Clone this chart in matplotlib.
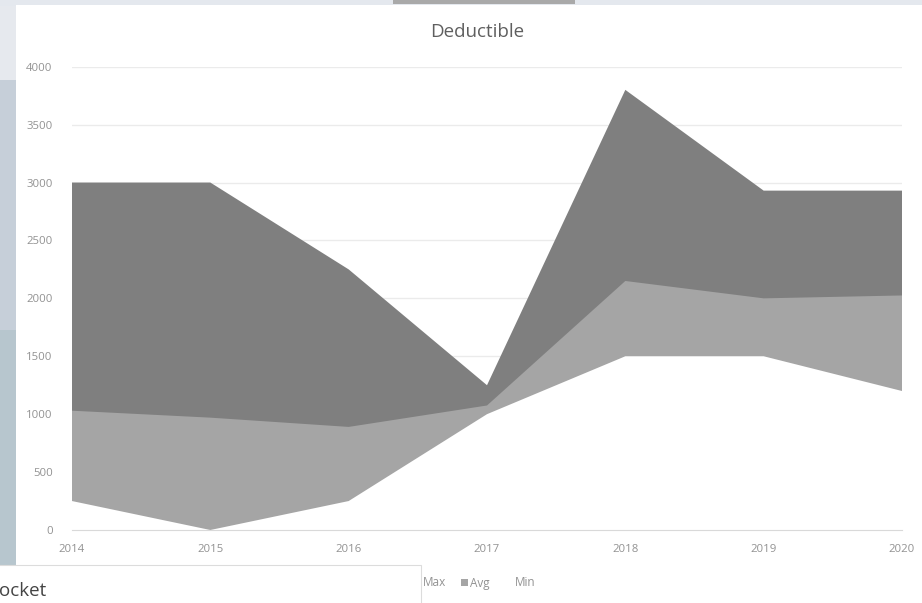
import matplotlib
matplotlib.use("Agg")
import matplotlib.pyplot as plt
from matplotlib.patches import Rectangle

# Deductible ranges by plan year
years = [2014, 2015, 2016, 2017, 2018, 2019, 2020]
max_vals = [3000, 3000, 2250, 1250, 3800, 2930, 2930]
avg_vals = [1030, 970, 890, 1075, 2150, 2000, 2025]
min_vals = [250, 0, 250, 1000, 1500, 1500, 1200]

series_names = ["Max", "Avg", "Min"]
series_colors = ["#7f7f7f", "#a5a5a5", "#ffffff"]
y_ticks = [0, 500, 1000, 1500, 2000, 2500, 3000, 3500, 4000]

W, H = 922, 603
fig = plt.figure(figsize=(W / 100, H / 100), dpi=100)
fig.patch.set_facecolor("#e6e9ee")


def px_rect(x0, y0, x1, y1, color, z, ec="none", lw=0):
    """Rectangle given in pixel coordinates measured from the top-left corner."""
    r = Rectangle((x0 / W, 1 - y1 / H), (x1 - x0) / W, (y1 - y0) / H,
                  transform=fig.transFigure, facecolor=color, edgecolor=ec,
                  linewidth=lw, zorder=z)
    fig.add_artist(r)
    return r


# window backdrop around the chart
px_rect(0, 0, W, 6, "#e4e8ee", 0)
px_rect(393, 0, 575, 4, "#a9a9a9", 0.1)
px_rect(0, 80, 16, 570, "#c6cfd9", 0.1)
px_rect(0, 330, 16, 570, "#b7c6ce", 0.15)
# chart panel
px_rect(16, 5, W, H, "#ffffff", 0.2)

font = ["Open Sans", "DejaVu Sans"]
plt.rcParams["font.family"] = font

x0, x1 = 72, 902
y_top, y_bot = 66.7, 530
ax = fig.add_axes([x0 / W, 1 - y_bot / H, (x1 - x0) / W, (y_bot - y_top) / H])
ax.set_zorder(1)
ax.patch.set_alpha(0)

vals = [max_vals, avg_vals, min_vals]
handles = []
for i, (name, v, c) in enumerate(zip(series_names, vals, series_colors)):
    h = ax.fill_between(years, 0, v, facecolor=c, edgecolor="none",
                        zorder=2 + i, label=name)
    handles.append(h)

ax.set_xlim(years[0], years[-1])
ax.set_ylim(0, 4000)
ax.set_yticks(y_ticks)
ax.set_xticks(years)
ax.set_yticklabels([str(t) for t in y_ticks])
ax.set_xticklabels([str(y) for y in years])
ax.grid(axis="y", color="#ebebeb", linewidth=1, zorder=1)
ax.set_axisbelow(True)
for s in ["top", "right", "left"]:
    ax.spines[s].set_visible(False)
ax.spines["bottom"].set_color("#d9d9d9")
ax.spines["bottom"].set_zorder(10)
ax.tick_params(axis="both", length=0, labelsize=8.2, labelcolor="#929292")
ax.tick_params(axis="y", pad=14)
ax.tick_params(axis="x", pad=10)

fig.text(477 / W, 1 - 32 / H, "Deductible", ha="center", va="center",
         fontsize=13.5, color="#5f5f5f", zorder=5)

leg = fig.legend(handles=handles, labels=series_names, loc="center left",
                 bbox_to_anchor=(413 / W, 1 - 583 / H), ncol=3, frameon=False,
                 fontsize=8.5, handlelength=0.55, handleheight=0.5,
                 handletextpad=0.25, columnspacing=1.3, borderpad=0,
                 borderaxespad=0, labelcolor="#929292")
leg.set_zorder(5)

# neighbouring chart panel overlapping the bottom-left corner
px_rect(-2, 565, 421, H + 2, "#ffffff", 20, ec="#dcdcdc", lw=0.8)
fig.text(-1 / W, 1 - 591 / H, "ocket", ha="left", va="center", fontsize=13.5,
         color="#444444", zorder=21)

fig.savefig("out.png", dpi=100, facecolor=fig.get_facecolor())
